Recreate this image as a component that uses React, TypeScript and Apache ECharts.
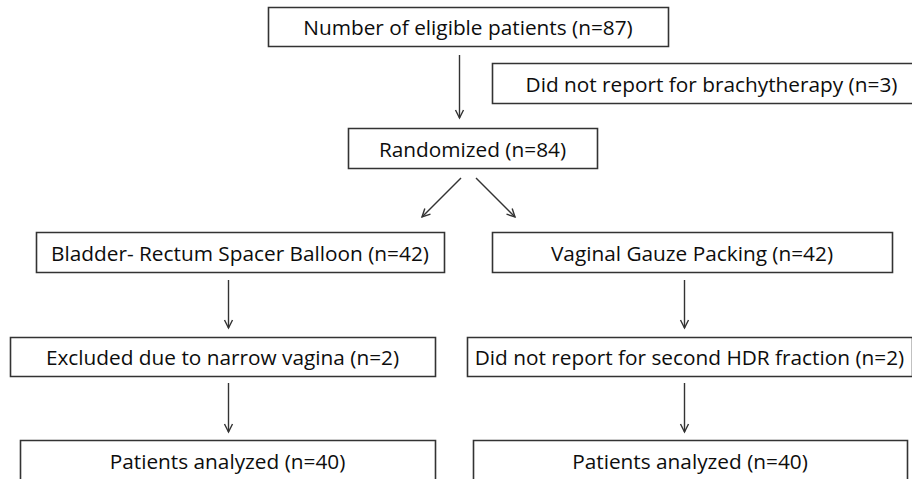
import React, { useEffect, useRef } from "react";
import * as echarts from "echarts";

// ---- Flowchart content (texts) ----
const stageLabels = ["Number of eligible patients (n=87)", "Randomized (n=84)"];
const exclusionLabels = ["Did not report for brachytherapy (n=3)"];
const armLabels = ["Bladder- Rectum Spacer Balloon (n=42)", "Vaginal Gauze Packing (n=42)"];
const lossLabels = ["Excluded due to narrow vagina (n=2)", "Did not report for second HDR fraction (n=2)"];
const analyzedLabels = ["Patients analyzed (n=40)", "Patients analyzed (n=40)"];

// ---- Layout (pixel boxes: x0, y0, x1, y1) ----
type Box = [number, number, number, number];
const stageBoxes: Box[] = [
  [268, 7, 668, 46],
  [348, 128, 597, 168],
];
const exclusionBoxes: Box[] = [[492, 63, 931, 103]];
const armBoxes: Box[] = [
  [36, 232, 444, 272],
  [492, 232, 892, 272],
];
const lossBoxes: Box[] = [
  [10, 337, 435, 376],
  [467, 337, 912, 376],
];
const analyzedBoxes: Box[] = [
  [20, 440, 435, 481],
  [473, 440, 907, 481],
];

const FONT = "'Open Sans', Lato, sans-serif";
const FONT_SIZE = 20.8;
const TEXT_COLOR = "#0d0d0d";
const LINE_COLOR = "#333333";

function boxEls(labels: string[], boxes: Box[]) {
  const els: any[] = [];
  labels.forEach((t, i) => {
    const [x0, y0, x1, y1] = boxes[i];
    els.push({
      type: "rect",
      shape: { x: x0 + 0.5, y: y0 + 0.5, width: x1 - x0, height: y1 - y0 },
      style: { fill: "#ffffff", stroke: LINE_COLOR, lineWidth: 1.6 },
      z: 1,
    });
    els.push({
      type: "text",
      x: (x0 + x1) / 2,
      y: (y0 + y1) / 2 + 0.5,
      style: {
        text: t,
        fontSize: FONT_SIZE,
        fontFamily: FONT,
        fontWeight: 500,
        fill: TEXT_COLOR,
        align: "center",
        verticalAlign: "middle",
      },
      z: 2,
    });
  });
  return els;
}

function arrow(x1: number, y1: number, x2: number, y2: number) {
  const dx = x2 - x1;
  const dy = y2 - y1;
  const len = Math.sqrt(dx * dx + dy * dy);
  const ux = dx / len;
  const uy = dy / len;
  const px = -uy;
  const py = ux;
  const L = 8;
  const W = 4;
  return [
    {
      type: "line",
      shape: { x1, y1, x2, y2 },
      style: { stroke: LINE_COLOR, lineWidth: 1.4 },
      z: 1,
    },
    {
      type: "polyline",
      shape: {
        points: [
          [x2 - L * ux + W * px, y2 - L * uy + W * py],
          [x2, y2],
          [x2 - L * ux - W * px, y2 - L * uy - W * py],
        ],
      },
      style: { stroke: LINE_COLOR, lineWidth: 1.4, fill: null },
      z: 1,
    },
  ];
}

export default function App() {
  const ref = useRef<HTMLDivElement>(null);
  useEffect(() => {
    if (!ref.current) return;
    const chart = echarts.init(ref.current, null, { renderer: "svg" });
    const elements: any[] = [
      ...boxEls(stageLabels, stageBoxes),
      ...boxEls(exclusionLabels, exclusionBoxes),
      ...boxEls(armLabels, armBoxes),
      ...boxEls(lossLabels, lossBoxes),
      ...boxEls(analyzedLabels, analyzedBoxes),
      ...arrow(459.5, 55, 459.5, 118),
      ...arrow(461, 178, 422, 217),
      ...arrow(476, 178, 515, 217),
      ...arrow(228.5, 280, 228.5, 328),
      ...arrow(684.5, 280, 684.5, 328),
      ...arrow(228.5, 383, 228.5, 432),
      ...arrow(684.5, 383, 684.5, 432),
    ];
    chart.setOption({
      animation: false,
      backgroundColor: "#ffffff",
      graphic: { elements },
    });
    return () => chart.dispose();
  }, []);
  return (
    <div
      ref={ref}
      style={{ position: "fixed", left: 0, top: 0, width: 912, height: 479 }}
    />
  );
}
